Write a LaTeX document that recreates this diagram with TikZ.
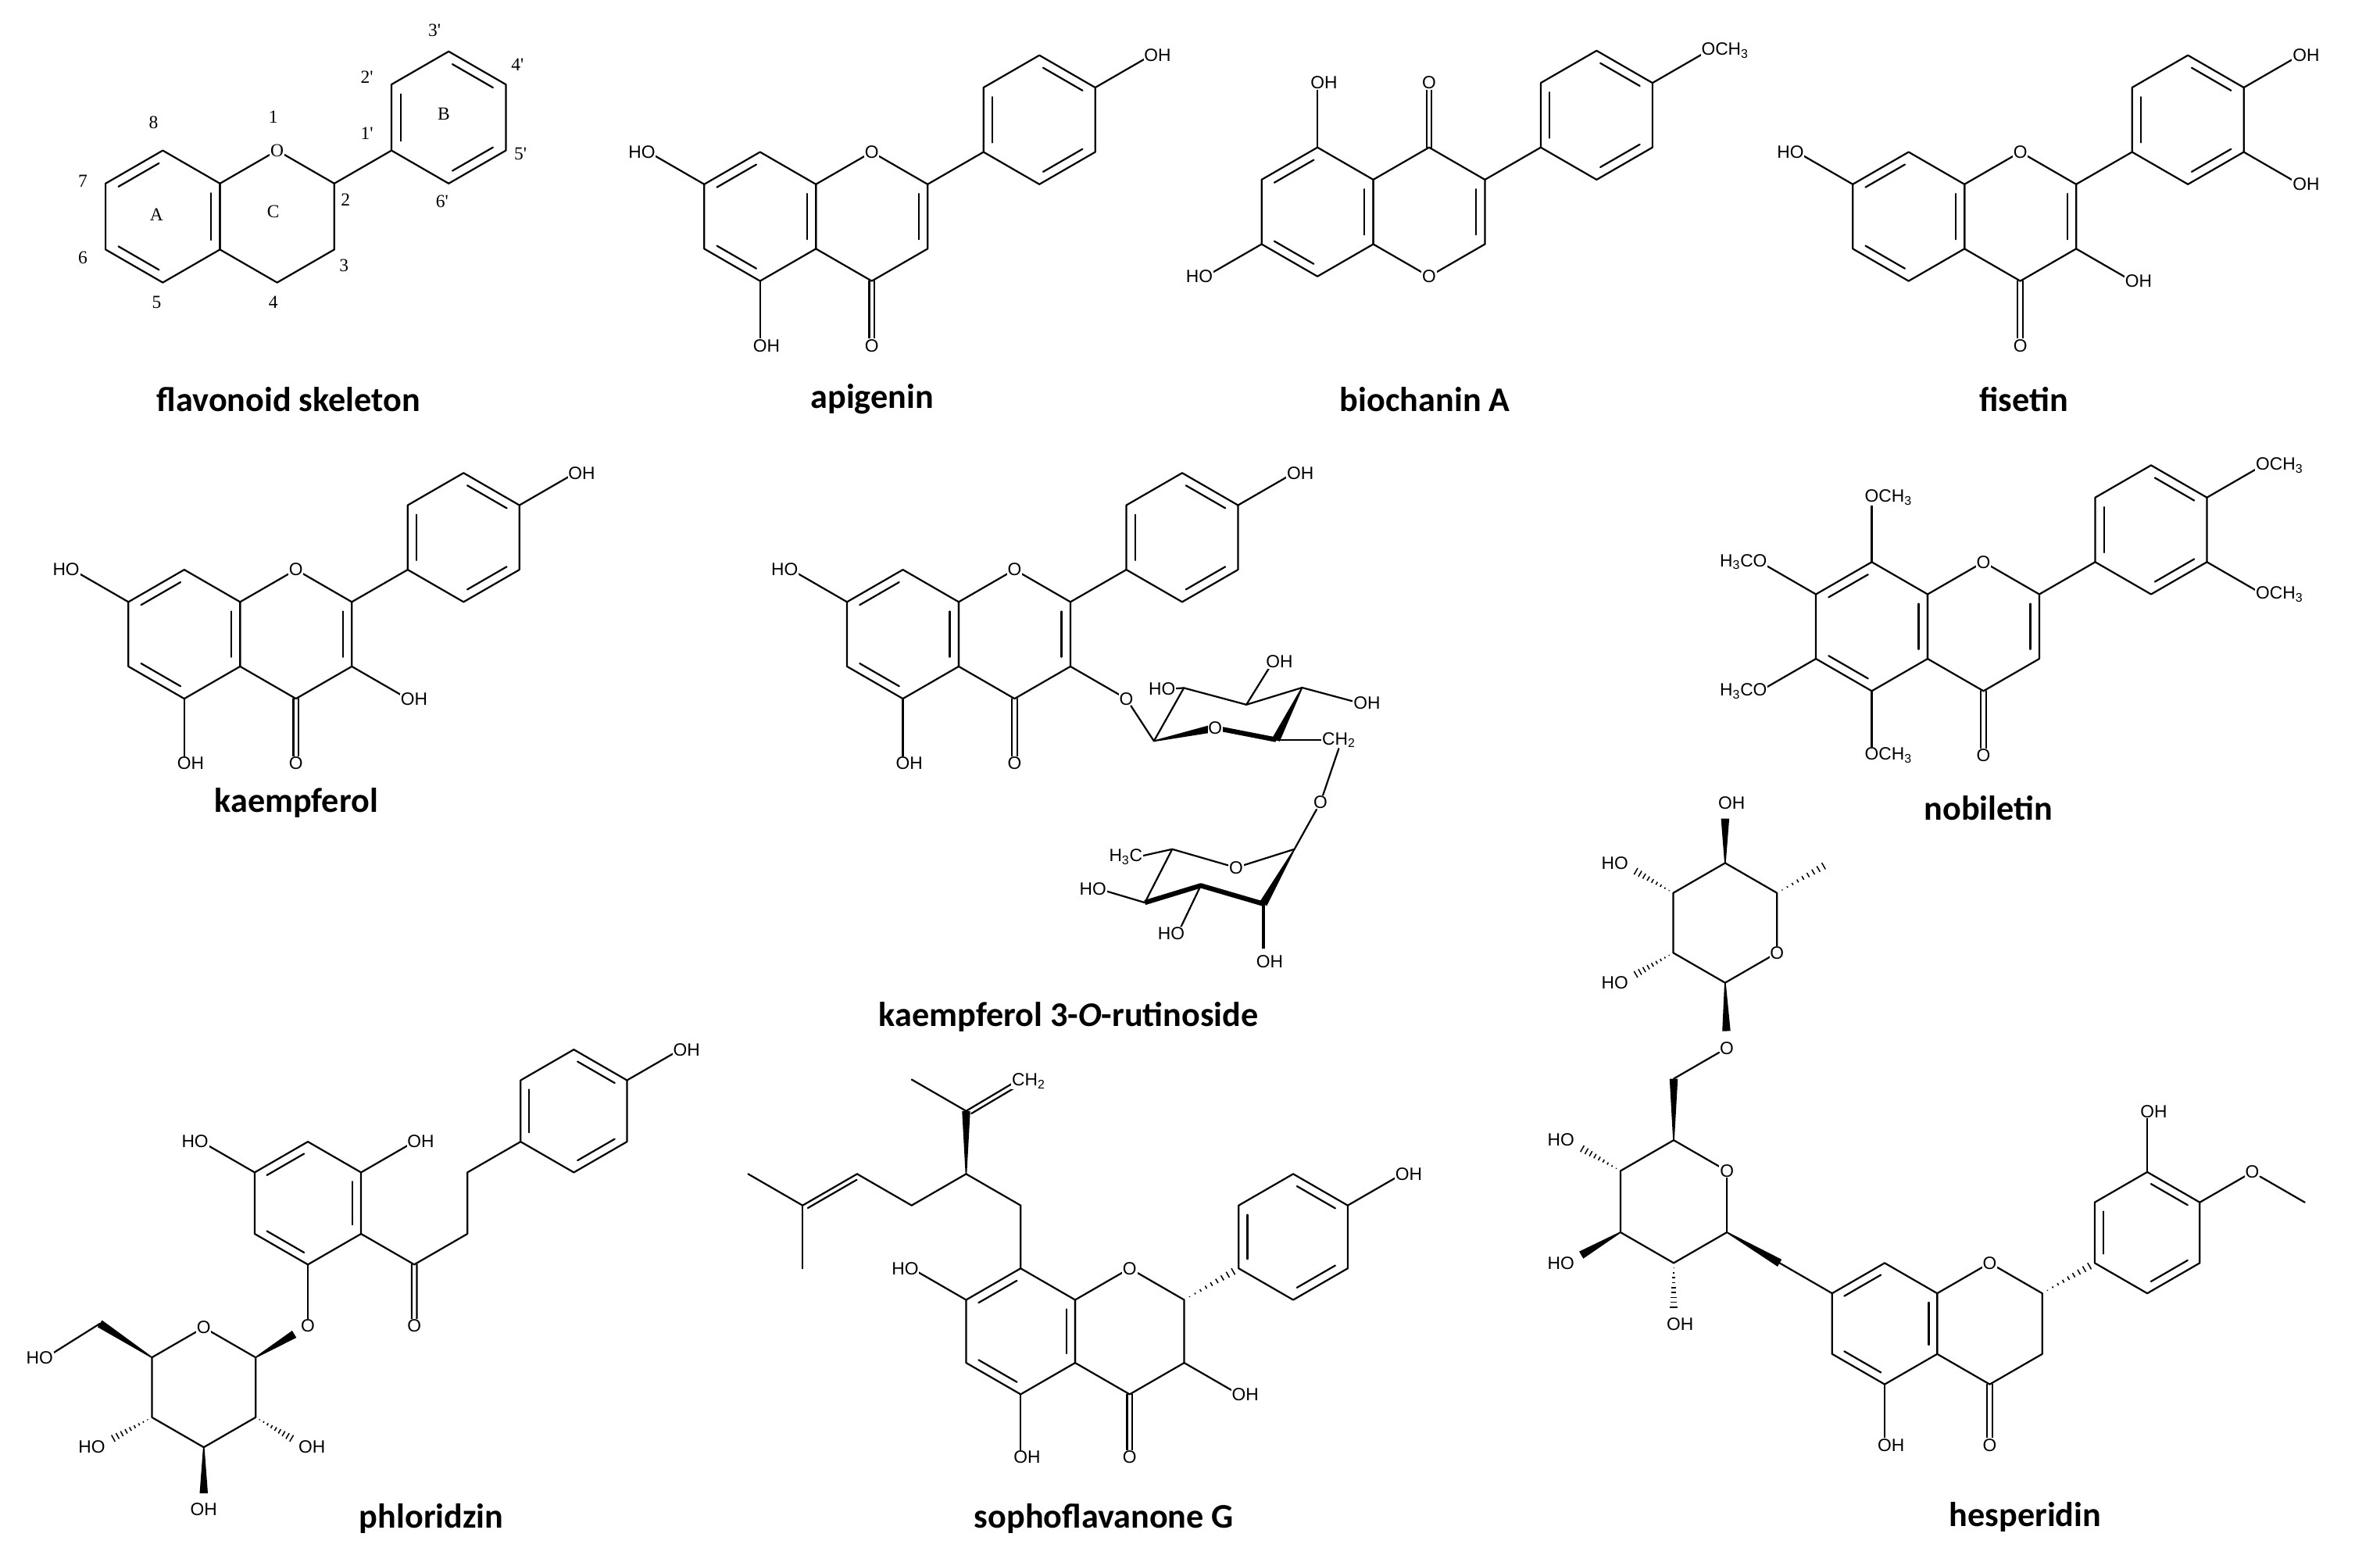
\documentclass[tikz,border=0pt]{standalone}
\usepackage{fontspec}
\newfontfamily\lsans{Liberation Sans}
\newfontfamily\lserif{Liberation Serif}
\newfontfamily\carl{Carlito}
\usetikzlibrary{calc}
\newcommand\hexa[4]{%
 \coordinate (#1) at ({#2},{#3});
 \foreach \k in {0,...,5}{\coordinate (#1\k) at ({#2+#4*cos(90-60*\k)},{#3-#4*sin(90-60*\k)});}
 \draw[bond] (#10)--(#11)--(#12)--(#13)--(#14)--(#15)--cycle;}
\newcommand\dbl[3]{\draw[bond,shorten <=4pt,shorten >=4pt] ($(#1)!0.84!(#1#2)$) -- ($(#1)!0.84!(#1#3)$);}
\newcommand\flavone[4]{\hexa{#1a}{#2}{#3}{#4}\hexa{#1c}{#2+1.732*#4}{#3}{#4}}
\newcommand\sbst[5][]{\draw[bond] (#4) -- ($(#3)!2!(#4)$); \node[atom,#1] (#2) at ($(#3)!2!(#4)$) {#5};}
\newcommand\cdbl[2]{\draw[bond] ($(#1)!2.4pt!90:(#2)$) -- ($(#2)!2.4pt!-90:(#1)$); \draw[bond] ($(#1)!2.4pt!-90:(#2)$) -- ($(#2)!2.4pt!90:(#1)$);}
\newcommand\carbonyl[3]{\coordinate (#1p) at ($(#2)!2!(#3)$); \cdbl{#3}{#1p} \node[atom] (#1) at (#1p) {O};}
\newcommand\sdbl[4]{\draw[bond] (#1)--(#2); \draw[bond,shorten <=3pt,shorten >=3pt] ($(#1)!4.5pt!#3:(#2)$) -- ($(#2)!4.5pt!#4:(#1)$);}
\newcommand\wdg[2]{\fill ($(#1)!0.6pt!90:(#2)$) -- ($(#2)!3.8pt!-90:(#1)$) -- ($(#2)!3.8pt!90:(#1)$) -- ($(#1)!0.6pt!-90:(#2)$) -- cycle;}
\newcommand\hsh[2]{\foreach \hh in {0.1,0.2,...,0.95}{\draw[line width=1.1pt] ($(#1)!\hh!(#2)!{\hh*3.8pt}!90:(#1)$) -- ($(#1)!\hh!(#2)!{\hh*3.8pt}!-90:(#1)$);}}
\newcommand\wlab[5][]{\coordinate (#2p) at #4; \coordinate (#2e) at ($(#3)!0.74!(#2p)$); \wdg{#3}{#2e} \node[atom,#1] (#2) at (#2p) {#5};}
\newcommand\hlab[5][]{\coordinate (#2p) at #4; \coordinate (#2e) at ($(#3)!0.8!(#2p)$); \hsh{#3}{#2e} \node[atom,#1] (#2) at (#2p) {#5};}
\newcommand\blab[5][]{\coordinate (#2p) at #4; \draw[bond] (#3) -- (#2p); \node[atom,#1] (#2) at (#2p) {#5};}
\begin{document}
\begin{tikzpicture}[x=0.05cm,y=-0.05cm,
 bond/.style={line width=1.6pt,line cap=round,line join=round},
 atom/.style={font=\lsans\fontsize{16.5}{18}\selectfont,fill=white,inner sep=0.6pt},
 num/.style={font=\lserif\fontsize{17}{19}\selectfont,inner sep=0.5pt},
 ttl/.style={font=\carl\bfseries\fontsize{32}{36}\selectfont},
 lft/.style={anchor=east,xshift=7.2pt},
 rgt/.style={anchor=west,xshift=-7.2pt}]
\useasboundingbox (0,0) rectangle (1550,1017.2);
% ---------- flavonoid skeleton
\flavone{s}{106}{141}{43}
\hexa{sb}{292.2}{76.5}{43}
\draw[bond] (sc1)--(sb4);
\dbl{sa}{5}{0}\dbl{sa}{3}{4}\dbl{sa}{1}{2}
\dbl{sb}{4}{5}\dbl{sb}{0}{1}\dbl{sb}{2}{3}
\node[num,fill=white] (sO) at (sc0) {O};
\node[num] (n8) at (100,80) {8};
\node[num] (n7) at (54,118) {7};
\node[num] (n6) at (54,168) {6};
\node[num] (n5) at (102,197) {5};
\node[num] (n4) at (178,197) {4};
\node[num] (n3) at (224,173) {3};
\node[num] (n2) at (225,130) {2};
\node[num] (n1) at (178,76) {1};
\node[num] (n1p) at (239,87) {1'};
\node[num] (n2p) at (239,50) {2'};
\node[num] (n3p) at (283,20) {3'};
\node[num] (n4p) at (337,42) {4'};
\node[num] (n5p) at (339,100) {5'};
\node[num] (n6p) at (288,131) {6'};
\node[num] (nA) at (102,140) {A};
\node[num] (nC) at (178,138) {C};
\node[num] (nB) at (289,74) {B};
\node[ttl] (t1) at (188,260) {flavonoid skeleton};
% ---------- apigenin
\flavone{ap}{495}{141}{42}
\hexa{apb}{676.9}{78}{42}
\draw[bond] (apc1)--(apb4);
\dbl{apa}{5}{0}\dbl{apa}{3}{4}\dbl{apa}{1}{2}\dbl{apc}{1}{2}
\dbl{apb}{4}{5}\dbl{apb}{0}{1}\dbl{apb}{2}{3}
\node[atom] (apO) at (apc0) {O};
\sbst[lft]{apH7}{apa}{apa5}{HO}
\sbst[rgt]{apH5}{apa}{apa3}{OH}
\carbonyl{apCO}{apc}{apc3}
\sbst[rgt]{apH4}{apb}{apb1}{OH}
\node[ttl] (t2) at (568,260) {apigenin};
% ---------- biochanin A
\hexa{bia}{858}{138}{42}
\hexa{bic}{930.7}{138}{42}
\hexa{bib}{1039.8}{75}{42}
\draw[bond] (bic1)--(bib4);
\dbl{bia}{5}{0}\dbl{bia}{3}{4}\dbl{bia}{1}{2}\dbl{bic}{1}{2}
\dbl{bib}{4}{5}\dbl{bib}{0}{1}\dbl{bib}{2}{3}
\node[atom] (biO) at (bic3) {O};
\carbonyl{biCO}{bic}{bic0}
\sbst[rgt]{biH5}{bia}{bia0}{OH}
\sbst[lft]{biH7}{bia}{bia4}{HO}
\sbst[rgt]{biM}{bib}{bib1}{OCH\textsubscript{3}}
\node[ttl] (t3) at (928,260) {biochanin A};
% ---------- fisetin
\flavone{fi}{1243}{141}{42}
\hexa{fib}{1424.9}{78}{42}
\draw[bond] (fic1)--(fib4);
\dbl{fia}{5}{0}\dbl{fia}{3}{4}\dbl{fia}{1}{2}\dbl{fic}{1}{2}
\dbl{fib}{4}{5}\dbl{fib}{0}{1}\dbl{fib}{2}{3}
\node[atom] (fiO) at (fic0) {O};
\sbst[lft]{fiH7}{fia}{fia5}{HO}
\sbst[rgt]{fiH3}{fic}{fic2}{OH}
\carbonyl{fiCO}{fic}{fic3}
\sbst[rgt]{fiH3p}{fib}{fib1}{OH}
\sbst[rgt]{fiH4p}{fib}{fib2}{OH}
\node[ttl] (t4) at (1318,260) {fisetin};
% ---------- kaempferol
\flavone{ka}{120}{413}{42}
\hexa{kab}{301.9}{350}{42}
\draw[bond] (kac1)--(kab4);
\dbl{kaa}{5}{0}\dbl{kaa}{3}{4}\dbl{kaa}{1}{2}\dbl{kac}{1}{2}
\dbl{kab}{4}{5}\dbl{kab}{0}{1}\dbl{kab}{2}{3}
\node[atom] (kaO) at (kac0) {O};
\sbst[lft]{kaH7}{kaa}{kaa5}{HO}
\sbst[rgt]{kaH5}{kaa}{kaa3}{OH}
\sbst[rgt]{kaH3}{kac}{kac2}{OH}
\carbonyl{kaCO}{kac}{kac3}
\sbst[rgt]{kaH4}{kab}{kab1}{OH}
\node[ttl] (t5) at (193,523) {kaempferol};
% ---------- kaempferol 3-O-rutinoside
\flavone{kr}{588}{413}{42}
\hexa{krb}{769.9}{350}{42}
\draw[bond] (krc1)--(krb4);
\dbl{kra}{5}{0}\dbl{kra}{3}{4}\dbl{kra}{1}{2}\dbl{krc}{1}{2}
\dbl{krb}{4}{5}\dbl{krb}{0}{1}\dbl{krb}{2}{3}
\node[atom] (krO) at (krc0) {O};
\sbst[lft]{krH7}{kra}{kra5}{HO}
\sbst[rgt]{krH5}{kra}{kra3}{OH}
\carbonyl{krCO}{krc}{krc3}
\sbst[rgt]{krH4}{krb}{krb1}{OH}
\sbst{krO3}{krc}{krc2}{O}
\coordinate (gC1) at (751.5,482.6);
\coordinate (gC2) at (771,448);
\coordinate (gC3) at (811.7,458.9);
\coordinate (gC4) at (848,447.8);
\coordinate (gC5) at (831,481.7);
\coordinate (gO5p) at (791.4,474);
\draw[bond] (krO3) -- (gC1) -- (gC2) -- (gC3) -- (gC4);
\wdg{gC4}{gC5}
\draw[line width=4.5pt] (gC5) -- (gO5p);
\wdg{gC1}{gO5p}
\node[atom] (gO5) at (gO5p) {O};
\blab[lft]{gH2}{gC2}{(761,448.7)}{HO}
\blab[rgt]{gH3}{gC3}{(829,431)}{OH}
\blab[rgt]{gH4}{gC4}{(886,458)}{OH}
\draw[bond] (gC5) -- (864,481.7);
\node[atom,anchor=west,xshift=-5pt] (gCH2) at (864,482) {CH\textsubscript{2}};
\node[atom] (rO) at (860,522.5) {O};
\draw[bond] (gCH2.south) -- (rO);
\coordinate (rC1) at (843,553);
\coordinate (rO5p) at (805,565);
\coordinate (rC5) at (763.4,553);
\coordinate (rC4) at (745.6,587.8);
\coordinate (rC3) at (782,576.7);
\coordinate (rC2) at (822.7,588.6);
\draw[bond] (rO) -- (rC1) -- (rO5p) -- (rC5) -- (rC4);
\draw[line width=4.5pt,line join=round] (rC4) -- (rC3) -- (rC2);
\wdg{rC1}{rC2}
\node[atom] (rO5) at (rO5p) {O};
\draw[bond] (rC5) -- (741,558);
\node[atom,anchor=east,xshift=5pt] (rMe) at (741,558) {H\textsubscript{3}C};
\blab[lft]{rH4}{rC4}{(716,579)}{HO}
\blab[lft]{rH3}{rC3}{(767,608)}{HO}
\draw[line width=3pt] (rC2) -- (822.7,618);
\node[atom,rgt] (rH2) at (822.7,626) {OH};
\node[ttl] (t6) at (696,662) {kaempferol 3-\textit{O}-rutinoside};
% ---------- nobiletin
\flavone{no}{1219}{408}{42}
\hexa{nob}{1400.9}{345}{42}
\draw[bond] (noc1)--(nob4);
\dbl{noa}{5}{0}\dbl{noa}{3}{4}\dbl{noa}{1}{2}\dbl{noc}{1}{2}
\dbl{nob}{4}{5}\dbl{nob}{0}{1}\dbl{nob}{2}{3}
\node[atom] (noO) at (noc0) {O};
\sbst[rgt]{noM8}{noa}{noa0}{OCH\textsubscript{3}}
\sbst[lft]{noM7}{noa}{noa5}{H\textsubscript{3}CO}
\sbst[lft]{noM6}{noa}{noa4}{H\textsubscript{3}CO}
\sbst[rgt]{noM5}{noa}{noa3}{OCH\textsubscript{3}}
\carbonyl{noCO}{noc}{noc3}
\sbst[rgt]{noM4p}{nob}{nob1}{OCH\textsubscript{3}}
\sbst[rgt]{noM3p}{nob}{nob2}{OCH\textsubscript{3}}
\node[ttl] (t7) at (1295,526) {nobiletin};
% ---------- phloridzin
\hexa{ph}{200.5}{783.5}{40}
\dbl{ph}{5}{0}\dbl{ph}{3}{4}\dbl{ph}{1}{2}
\sbst[lft]{phH1}{ph}{ph5}{HO}
\sbst[rgt]{phH2}{ph}{ph1}{OH}
\sbst{phOg}{ph}{ph3}{O}
\coordinate (phk) at ($(ph)!2!(ph2)$);
\coordinate (phc1) at (304.4,803.5);
\coordinate (phc2) at (304.4,763.5);
\hexa{phb}{373.7}{723.5}{40}
\draw[bond] (ph2)--(phk)--(phc1)--(phc2)--(phb4);
\coordinate (phOp) at (269.8,863.5);
\cdbl{phk}{phOp}
\node[atom] (phO) at (phOp) {O};
\dbl{phb}{4}{5}\dbl{phb}{0}{1}\dbl{phb}{2}{3}
\sbst[rgt]{phbH}{phb}{phb1}{OH}
\hexa{pg}{132.7}{903.5}{39}
\node[atom] (pgO) at (pg0) {O};
\coordinate (pgE) at ($(pg1)!0.74!(phOg)$);
\wdg{pg1}{pgE}
\coordinate (pg6) at (65,862);
\wdg{pg5}{pg6}
\blab[lft]{pgH6}{pg6}{(30,884)}{HO}
\hlab[lft]{pgH4}{pg4}{(64,942)}{HO}
\hlab[rgt]{pgH2}{pg2}{(199,942)}{OH}
\wlab{pgH3}{pg3}{(132.7,983)}{OH}
\node[ttl] (t8) at (281,989) {phloridzin};
% ---------- sophoflavanone G
\flavone{so}{664.7}{867}{41}
\hexa{sob}{842.2}{805.5}{41}
\hsh{soc1}{sob4}
\dbl{soa}{5}{0}\dbl{soa}{3}{4}\dbl{soa}{1}{2}
\dbl{sob}{4}{5}\dbl{sob}{0}{1}\dbl{sob}{2}{3}
\node[atom] (soO) at (soc0) {O};
\sbst[lft]{soH7}{soa}{soa5}{HO}
\sbst[rgt]{soH5}{soa}{soa3}{OH}
\sbst[rgt]{soH3}{soc}{soc2}{OH}
\carbonyl{soCO}{soc}{soc3}
\sbst[rgt]{soH4}{sob}{sob1}{OH}
\coordinate (P1) at (664.7,785);
\coordinate (P2) at (629.2,764.5);
\coordinate (P3) at (629.2,723.5);
\coordinate (Pch) at (662,704);
\coordinate (Pme) at (593.7,703);
\coordinate (P4) at (593.7,785);
\coordinate (P5) at (558.2,764.5);
\coordinate (P6) at (522.7,785);
\coordinate (P7) at (487.2,764.5);
\coordinate (P8) at (522.7,826);
\draw[bond] (soa0)--(P1)--(P2)--(P4)--(P5);
\wdg{P2}{P3}
\draw[bond] (P3)--(Pme);
\sdbl{P3}{Pch}{-90}{90}
\node[atom,anchor=west,xshift=-5pt] (soCH2) at (Pch) {CH\textsubscript{2}};
\sdbl{P5}{P6}{90}{-90}
\draw[bond] (P6)--(P7);
\draw[bond] (P6)--(P8);
\node[ttl] (t9) at (719,989) {sophoflavanone G};
% ---------- hesperidin
\flavone{he}{1227.4}{862}{39.5}
\hexa{heb}{1398.4}{802.75}{39.5}
\hsh{hec1}{heb4}
\dbl{hea}{5}{0}\dbl{hea}{3}{4}\dbl{hea}{1}{2}
\dbl{heb}{4}{5}\dbl{heb}{0}{1}\dbl{heb}{2}{3}
\node[atom] (heO) at (hec0) {O};
\sbst[rgt]{heH5}{hea}{hea3}{OH}
\carbonyl{heCO}{hec}{hec3}
\sbst[rgt]{heH3p}{heb}{heb0}{OH}
\sbst{heOm}{heb}{heb1}{O}
\coordinate (heMe) at (1501,783);
\draw[bond] (heOm)--(heMe);
\coordinate (hw) at ($(hea)!2!(hea5)$);
\draw[bond] (hea5)--(hw);
\hexa{hg}{1090}{782.5}{40}
\wdg{hg2}{hw}
\node[atom] (hgO) at (hg1) {O};
\coordinate (hCH2) at (1090,702.5);
\wdg{hg0}{hCH2}
\node[atom] (hOl) at (1124.6,682.5) {O};
\draw[bond] (hCH2)--(hOl);
\hlab[lft]{hgH4}{hg5}{(1020.8,742.5)}{HO}
\wlab[lft]{hgH3}{hg4}{(1020.8,822.5)}{HO}
\hlab[rgt]{hgH2}{hg3}{(1090,862.5)}{OH}
\hexa{hr}{1123.5}{601}{39}
\node[atom] (hrO) at (hr2) {O};
\coordinate (hrE) at ($(hr3)!0.74!(hOl)$);
\wdg{hr3}{hrE}
\wlab[rgt]{hrH}{hr0}{(1123.5,523)}{OH}
\coordinate (hrMe) at (1191,562);
\hsh{hr1}{hrMe}
\hlab[lft]{hrH2}{hr4}{(1055.9,640)}{HO}
\hlab[lft]{hrH3}{hr5}{(1055.9,562)}{HO}
\node[ttl] (t10) at (1319,988) {hesperidin};
\end{tikzpicture}
\end{document}
